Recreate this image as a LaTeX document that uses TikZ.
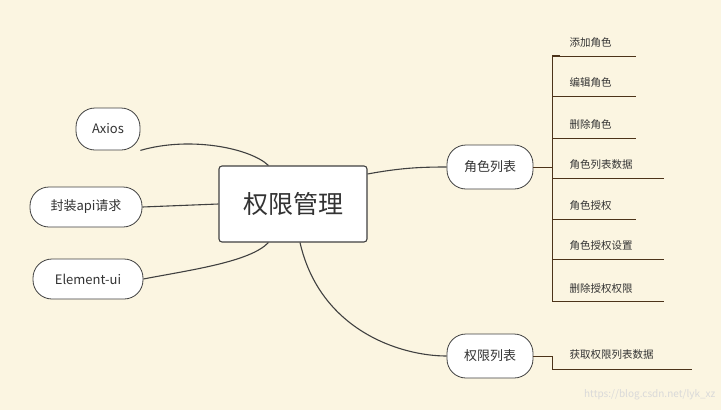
\documentclass[tikz,border=0pt]{standalone}
\usepackage{fontspec}
\setmainfont{Noto Sans CJK SC}
\begin{document}
\begin{tikzpicture}[x=1pt,y=-1pt,
  pill/.style={draw=black!75,fill=white,rounded corners=19pt,line width=0.8pt,font=\fontsize{13}{15}\selectfont,text=black!80,inner sep=0pt},
  leaf/.style={font=\fontsize{10.5}{12}\selectfont,text=black!80,anchor=west},
  conn/.style={draw=black!75,line width=1.1pt},
  lconn/.style={draw=black!60!brown,line width=0.6pt}]
\fill[fill={rgb,255:red,251;green,245;blue,225}] (0,0) rectangle (721,410);
\useasboundingbox (0,0) rectangle (721,410);
\node[draw=black!75,fill=white,rounded corners=3pt,line width=1.1pt,minimum width=148pt,minimum height=76pt,font=\fontsize{25}{28}\selectfont,text=black!80] (c) at (293,204) {权限管理};
\node[pill,minimum width=64pt,minimum height=42pt] (ax) at (108,129) {Axios};
\node[pill,minimum width=112pt,minimum height=40pt] (api) at (86,207) {封装api请求};
\node[pill,minimum width=110pt,minimum height=40pt] (el) at (88,279) {Element-ui};
\node[pill,minimum width=86pt,minimum height=44pt] (r) at (490,167) {角色列表};
\node[pill,minimum width=86pt,minimum height=44pt] (p) at (490,356) {权限列表};
\draw[conn] (c.north west)++(50,0) .. controls (250,148) and (190,136) .. (ax.south east);
\draw[conn] (c.west) -- (api.east);
\draw[conn] (c.south west)++(50,0) .. controls (250,262) and (190,270) .. (el.east);
\draw[conn] (c.east)++(0,-30) .. controls (400,168) and (420,167) .. (r.west);
\draw[conn] (c.south)++(7,0) .. controls (320,330) and (400,356) .. (p.west);
\coordinate (rb) at (552,167);
\draw[lconn] (r.east) -- (rb);
\draw[lconn] (560,55) -- (552,55) -- (552,301) -- (560,301);
\foreach \t/\y/\w in {添加角色/43/636,编辑角色/83/636,删除角色/125/636,角色列表数据/165/664,角色授权/206/636,角色授权设置/246/664,删除授权权限/288/664}{
  \node[leaf] at (566,\y) {\t};
  \draw[lconn] (552,\y+13) -- (\w,\y+13);
}
\coordinate (pb) at (552,356);
\draw[lconn] (p.east) -- (pb) -- (552,369) -- (692,369);
\node[leaf] at (566,355) {获取权限列表数据};
\node[anchor=east,text=white!85!black,font=\fontsize{10}{12}\selectfont] at (719,395) {https://blog.csdn.net/lyk\_xz};
\end{tikzpicture}
\end{document}
